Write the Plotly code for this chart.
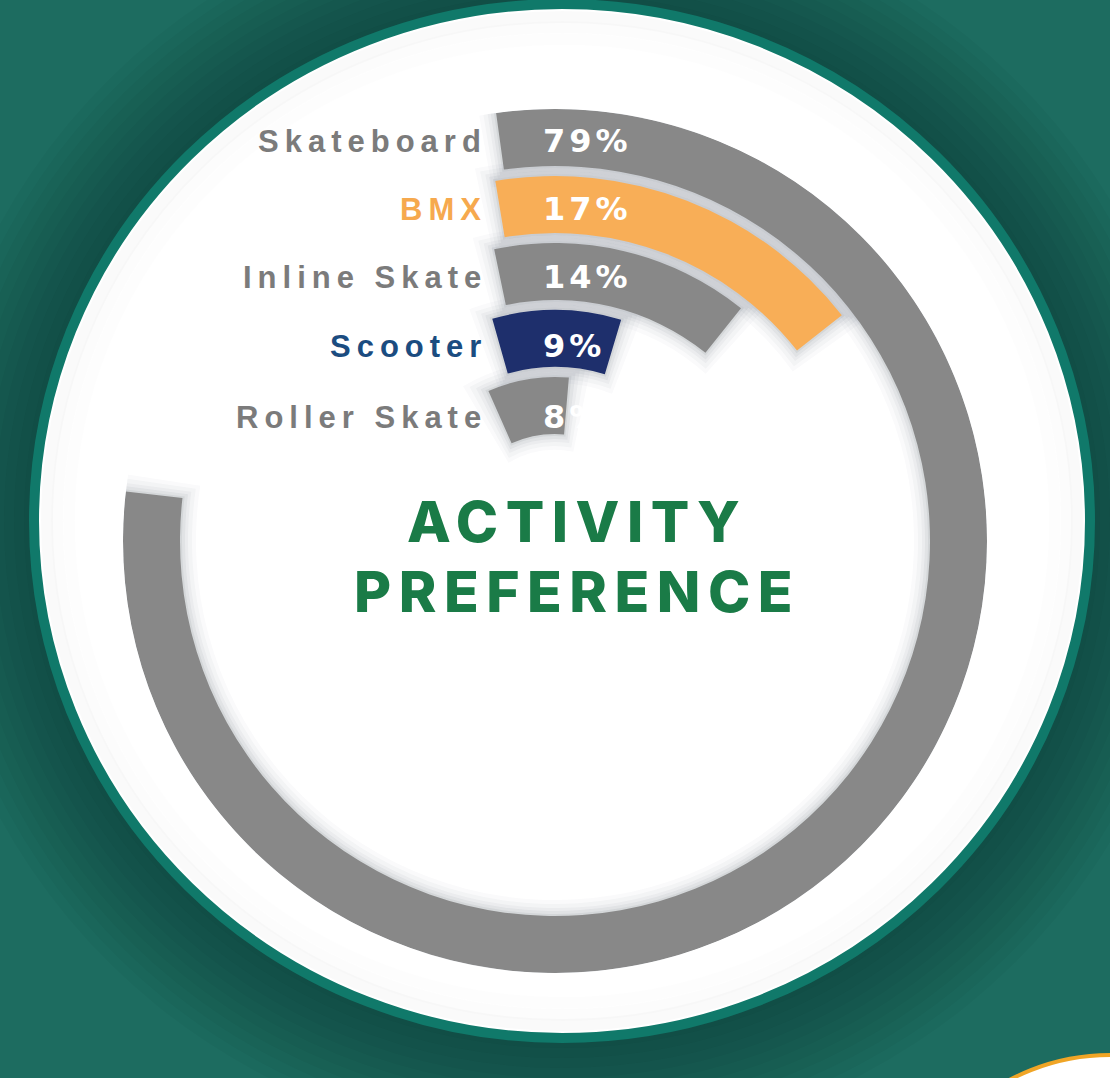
import math
import plotly.graph_objects as go

# ---------------- data ----------------
activities = ["Skateboard", "BMX", "Inline Skate", "Scooter", "Roller Skate"]
shares = [79, 17, 14, 9, 8]
bar_colors = ["#888888", "#f8ae57", "#888888", "#1e2f6c", "#888888"]
label_colors = ["#7b7b7b", "#f6a94e", "#7b7b7b", "#1b4c80", "#7b7b7b"]
title_lines = ["ACTIVITY", "PREFERENCE"]

# ---------------- geometry (layout) ----------------
W, H = 1110, 1078
CX, CY = 555, 541          # centre of the rings, px
R = 432                    # outer radius of the outermost ring, px
BAND = 57                  # ring thickness
PITCH = 67                 # ring spacing
START_X = 500              # bars begin on this vertical line


def px(x):
    return x / W


def py(y):
    return 1 - y / H


n = len(activities)
outer = [R - i * PITCH for i in range(n)]
inner = [o - BAND for o in outer]
mid = [(o + i) / 2 for o, i in zip(outer, inner)]
start = [-math.degrees(math.asin((CX - START_X) / m)) for m in mid]
span = [v * 360 / 100 for v in shares]
centre = [s + sp / 2 for s, sp in zip(start, span)]

fig = go.Figure()

# soft shadows under the arcs
for grow, alpha in [(16, 0.025), (12, 0.03), (8, 0.04), (5, 0.05), (2, 0.07)]:
    fig.add_trace(go.Barpolar(
        theta=centre,
        width=[sp + 2 * math.degrees(grow / m) for sp, m in zip(span, mid)],
        base=[i - grow for i in inner],
        r=[BAND + 2 * grow] * n,
        marker=dict(color=f"rgba(45,50,70,{alpha})", line=dict(width=0)),
        hoverinfo="skip", showlegend=False,
    ))

# the arcs
fig.add_trace(go.Barpolar(
    theta=centre,
    width=span,
    base=inner,
    r=[BAND] * n,
    marker=dict(color=bar_colors, line=dict(width=0)),
    text=activities,
    hoverinfo="text",
    showlegend=False,
))

shapes = []
# dark vignette around the white disc
WCX, WCY, WRX, WRY = 562, 521, 528, 517
for d in range(110, 0, -10):
    shapes.append(dict(
        type="circle", xref="paper", yref="paper", layer="below",
        x0=px(WCX - WRX - d), x1=px(WCX + WRX + d),
        y0=py(WCY + WRY + d), y1=py(WCY - WRY - d),
        fillcolor="rgba(0,25,20,0.035)", line=dict(width=0),
    ))
# white disc with teal rim
shapes.append(dict(
    type="circle", xref="paper", yref="paper", layer="below",
    x0=px(WCX - WRX), x1=px(WCX + WRX),
    y0=py(WCY + WRY), y1=py(WCY - WRY),
    fillcolor="#ffffff", line=dict(color="#10796a", width=10),
))
# very subtle inner shading of the disc
for d, a in [(8, 0.018), (18, 0.012), (30, 0.008)]:
    shapes.append(dict(
        type="circle", xref="paper", yref="paper", layer="below",
        x0=px(WCX - WRX + 5 + d), x1=px(WCX + WRX - 5 - d),
        y0=py(WCY + WRY - 5 - d), y1=py(WCY - WRY + 5 + d),
        fillcolor="rgba(0,0,0,0)", line=dict(color=f"rgba(0,0,0,{a})", width=12),
    ))
# corner badge (partly visible, bottom right)
shapes.append(dict(
    type="circle", xref="paper", yref="paper", layer="below",
    x0=px(1110 - 215), x1=px(1110 + 215),
    y0=py(1270 + 215), y1=py(1270 - 215),
    fillcolor="#ffffff", line=dict(color="#f0a526", width=4),
))

annotations = []
LS_LABEL = 6
LS_PCT = 4
for i in range(n):
    yrow = CY - math.sqrt(mid[i] ** 2 - (CX - START_X) ** 2)
    annotations.append(dict(
        x=px(START_X - 17 + LS_LABEL), y=py(yrow), xref="paper", yref="paper",
        xanchor="right", yanchor="middle", showarrow=False,
        text=f'<span style="letter-spacing:{LS_LABEL}px">{activities[i]}</span>',
        font=dict(family="Liberation Sans, Arial, sans-serif", size=31,
                  color=label_colors[i], weight=700),
    ))
    annotations.append(dict(
        x=px(START_X + 41), y=py(yrow), xref="paper", yref="paper",
        xanchor="left", yanchor="middle", showarrow=False,
        text=f'<span style="letter-spacing:{LS_PCT}px">{shares[i]}%</span>',
        font=dict(family="DejaVu Sans, sans-serif", size=32,
                  color="#ffffff", weight=700),
    ))

LS_TITLE = 7.5
for j, line in enumerate(title_lines):
    annotations.append(dict(
        x=px(573 + LS_TITLE / 2), y=py(521 + j * 70), xref="paper", yref="paper",
        xanchor="center", yanchor="middle", showarrow=False,
        text=f'<span style="letter-spacing:{LS_TITLE}px">{line}</span>',
        font=dict(family="Inter, Lato, sans-serif", size=57,
                  color="#1a7b47", weight=800),
    ))

fig.update_layout(
    width=W, height=H,
    margin=dict(l=0, r=0, t=0, b=0),
    paper_bgcolor="#1d6c60",
    plot_bgcolor="rgba(0,0,0,0)",
    showlegend=False,
    shapes=shapes,
    annotations=annotations,
    polar=dict(
        domain=dict(x=[px(CX - R), px(CX + R)], y=[py(CY + R), py(CY - R)]),
        bgcolor="rgba(0,0,0,0)",
        barmode="overlay",
        hole=0,
        radialaxis=dict(visible=False, range=[0, R]),
        angularaxis=dict(visible=False, rotation=90, direction="clockwise",
                         thetaunit="degrees"),
    ),
)

fig.write_html(
    "out.html",
    config={"displayModeBar": False},
    post_script="document.body.style.margin='0';document.body.style.overflow='hidden';",
)
